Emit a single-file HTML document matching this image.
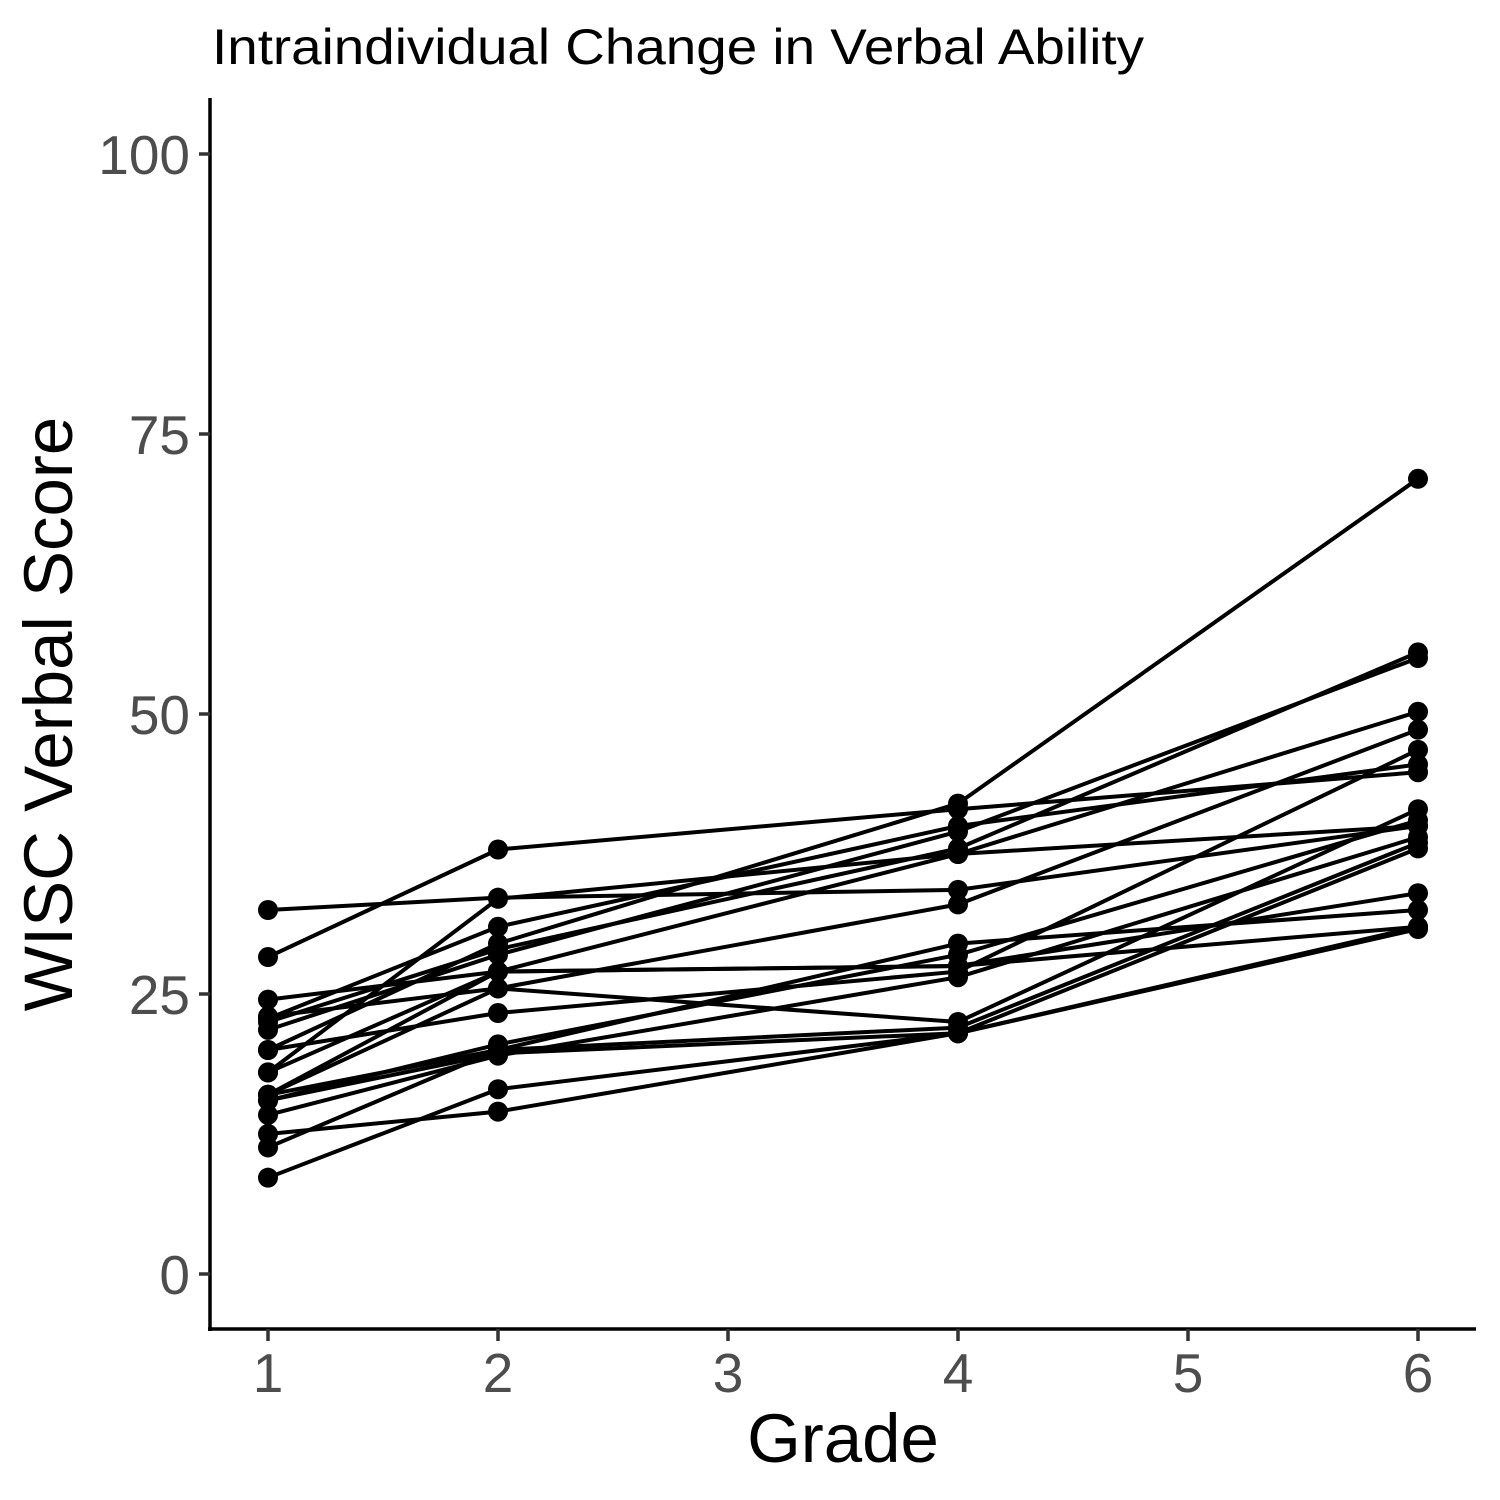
<!DOCTYPE html>
<html><head><meta charset="utf-8"><style>body{margin:0;background:#fff}svg{display:block}text{font-family:"Liberation Sans",sans-serif}</style></head>
<body>
<svg id="chart" width="1500" height="1500" viewBox="0 0 1500 1500" xmlns="http://www.w3.org/2000/svg">
<rect width="1500" height="1500" fill="#fff"/>
<text x="212" y="64" font-size="50" textLength="932" lengthAdjust="spacingAndGlyphs" fill="#000">Intraindividual Change in Verbal Ability</text>
<g id="marks"></g>
<line x1="210" y1="98" x2="210" y2="1331" stroke="#000" stroke-width="3.5"/>
<line x1="208" y1="1329" x2="1476" y2="1329" stroke="#000" stroke-width="3.5"/>
<g id="yticks"></g><g id="xticks"></g>
<text x="843" y="1462" font-size="69" text-anchor="middle" fill="#000">Grade</text>
<text transform="translate(72,714) rotate(-90)" font-size="69" text-anchor="middle" fill="#000">WISC Verbal Score</text>
</svg>
<script>
const grades = [1, 2, 4, 6];
const yTicks = [0, 25, 50, 75, 100];
const xTicks = [1, 2, 3, 4, 5, 6];
const s1 = [32.5, 33.6, 34.3, 40.0];
const s2 = [28.3, 37.9, 41.5, 44.8];
const s3 = [24.5, 27.0, 27.5, 31.0];
const s4 = [22.5, 29.0, 38.0, 55.5];
const s5 = [23.0, 25.5, 22.5, 41.5];
const s6 = [21.8, 28.5, 39.5, 55.0];
const s7 = [20.0, 29.5, 42.0, 71.0];
const s8 = [18.0, 33.5, 37.5, 50.2];
const s9 = [18.0, 27.0, 37.5, 40.0];
const s10 = [16.0, 25.5, 33.0, 48.6];
const s11 = [16.0, 27.0, 27.5, 34.0];
const s12 = [15.5, 20.5, 28.5, 40.5];
const s13 = [16.0, 20.0, 29.5, 32.5];
const s14 = [14.2, 19.5, 26.5, 39.0];
const s15 = [12.5, 14.5, 21.5, 31.0];
const s16 = [11.3, 20.0, 22.0, 38.5];
const s17 = [8.6, 16.5, 21.5, 38.0];
const s18 = [20.0, 23.3, 27.0, 46.8];
const s19 = [22.8, 31.0, 40.0, 45.5];
const s20 = [15.5, 19.7, 21.5, 30.8];
const series = [s1,s2,s3,s4,s5,s6,s7,s8,s9,s10,s11,s12,s13,s14,s15,s16,s17,s18,s19,s20];
const NS = "http://www.w3.org/2000/svg";
const xs = g => 268 + (g - 1) * 230;
const ys = v => 1274 - v * 11.2;
const marks = document.getElementById('marks');
series.forEach((s, i) => {
  const pl = document.createElementNS(NS, 'polyline');
  
  
  pl.setAttribute('points', s.map((v, j) => xs(grades[j]) + ',' + ys(v)).join(' '));
  pl.setAttribute('fill', 'none'); pl.setAttribute('stroke', '#000'); pl.setAttribute('stroke-width', '4');
  marks.appendChild(pl);
});
series.forEach((s, i) => {
  s.forEach((v, j) => {
    const c = document.createElementNS(NS, 'circle');
    
    
    c.setAttribute('cx', xs(grades[j])); c.setAttribute('cy', ys(v)); c.setAttribute('r', '10');
    marks.appendChild(c);
  });
});
const yt = document.getElementById('yticks');
yTicks.forEach(t => {
  const l = document.createElementNS(NS, 'line');
  
  
  l.setAttribute('x1', 199); l.setAttribute('x2', 210); l.setAttribute('y1', ys(t)); l.setAttribute('y2', ys(t));
  l.setAttribute('stroke', '#333'); l.setAttribute('stroke-width', '3.5');
  yt.appendChild(l);
  const tx = document.createElementNS(NS, 'text');
  
  
  tx.setAttribute('x', 190); tx.setAttribute('y', ys(t) + 20); tx.setAttribute('text-anchor', 'end');
  tx.setAttribute('font-size', '55'); tx.setAttribute('fill', '#4d4d4d');
  tx.textContent = t; yt.appendChild(tx);
});
const xt = document.getElementById('xticks');
xTicks.forEach(t => {
  const l = document.createElementNS(NS, 'line');
  
  
  l.setAttribute('x1', xs(t)); l.setAttribute('x2', xs(t)); l.setAttribute('y1', 1329); l.setAttribute('y2', 1341);
  l.setAttribute('stroke', '#333'); l.setAttribute('stroke-width', '3.5');
  xt.appendChild(l);
  const tx = document.createElementNS(NS, 'text');
  
  
  tx.setAttribute('x', xs(t)); tx.setAttribute('y', 1392); tx.setAttribute('text-anchor', 'middle');
  tx.setAttribute('font-size', '55'); tx.setAttribute('fill', '#4d4d4d');
  tx.textContent = t; xt.appendChild(tx);
});
</script>
</body></html>
